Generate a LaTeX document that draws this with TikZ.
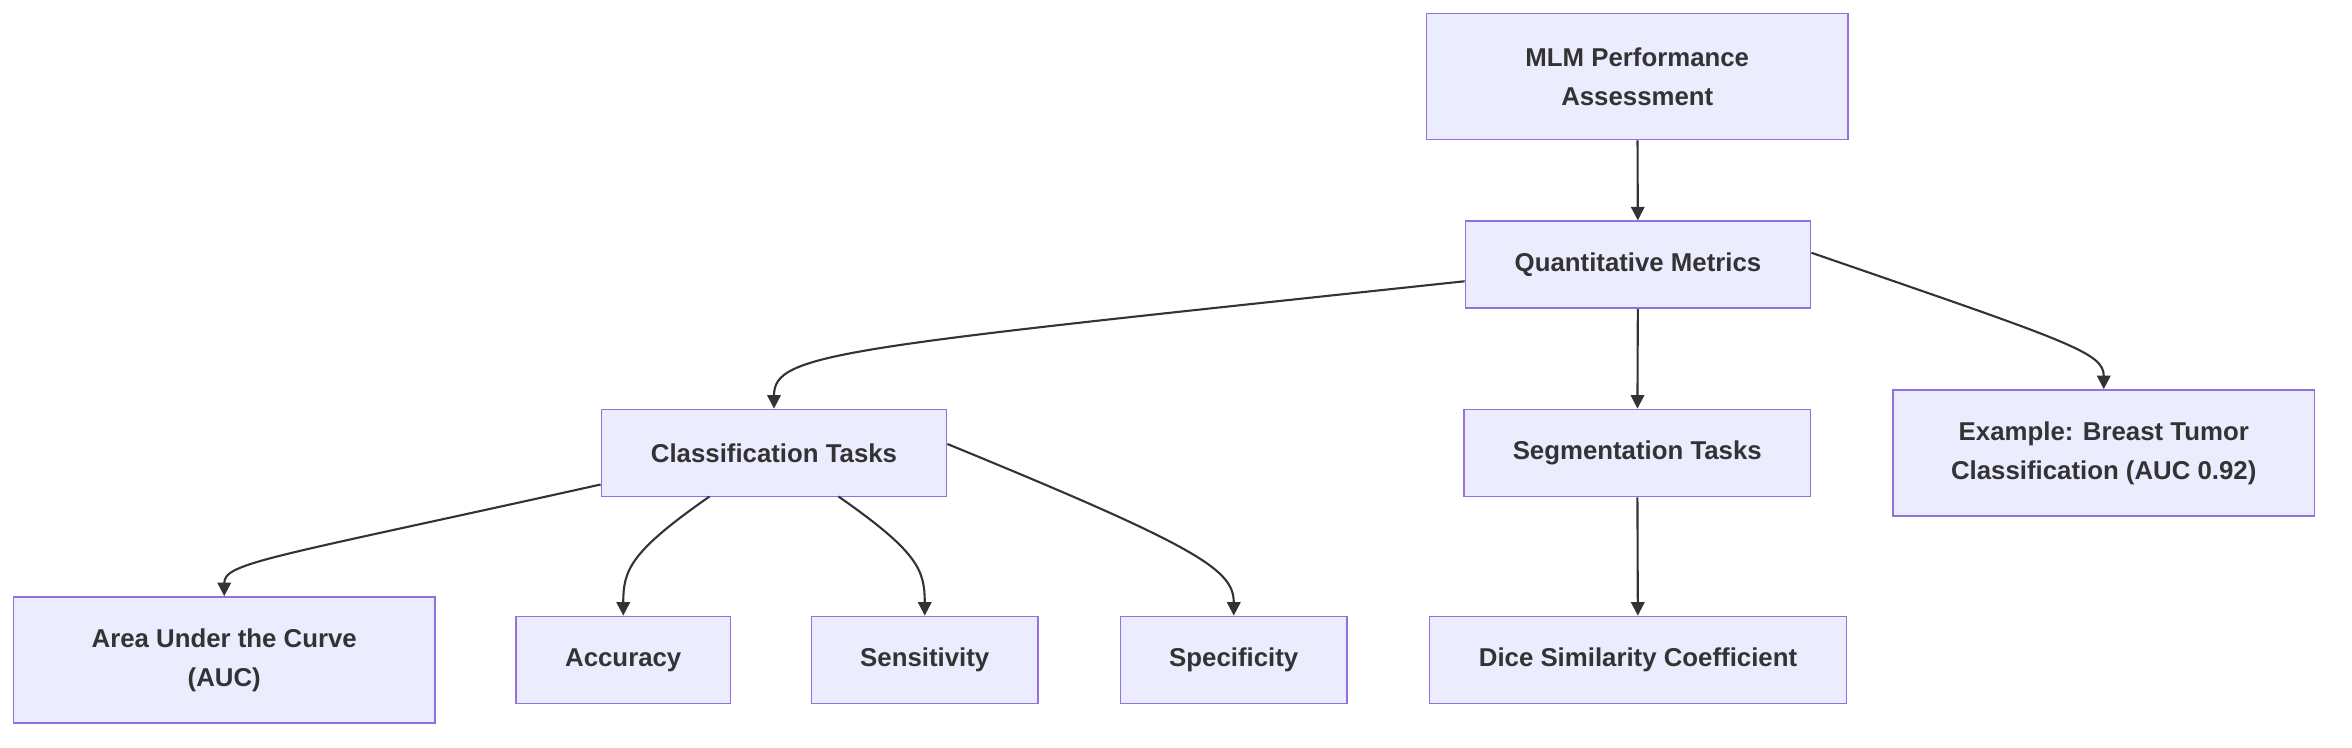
\documentclass[tikz,border=0pt]{standalone}
\usepackage{fontspec}
\setmainfont{Liberation Sans}
\usetikzlibrary{arrows.meta}
\definecolor{nf}{HTML}{ECECFF}
\definecolor{nb}{HTML}{9370DB}
\definecolor{tx}{HTML}{333333}
\begin{document}
\begin{tikzpicture}[x=0.5pt,y=-0.5pt,
  box/.style={draw=nb,fill=nf,line width=0.6pt,text=tx,font=\fontsize{8.6}{13}\selectfont\bfseries,align=center,inner sep=0pt},
  ar/.style={draw=tx,line width=0.7pt,-{Triangle[length=4.5pt,width=4.5pt]}}]
\useasboundingbox (0,0) rectangle (1568,498);
\node[box,minimum width=140.5pt,minimum height=42pt] (mlm) at (1091.5,51) {MLM Performance\\Assessment};
\node[box,minimum width=115pt,minimum height=29pt] (q) at (1092,176.5) {Quantitative Metrics};
\node[box,minimum width=115pt,minimum height=29pt] (c) at (516,302) {Classification Tasks};
\node[box,minimum width=115.5pt,minimum height=29pt] (s) at (1091.5,302) {Segmentation Tasks};
\node[box,minimum width=140.5pt,minimum height=42pt] (e) at (1402.5,302) {Example: Breast Tumor\\Classification (AUC 0.92)};
\node[box,minimum width=140.5pt,minimum height=42pt] (auc) at (149.5,440) {Area Under the Curve\\(AUC)};
\node[box,minimum width=71.5pt,minimum height=29pt] (acc) at (415.5,440) {Accuracy};
\node[box,minimum width=75.5pt,minimum height=29pt] (sen) at (616.5,440) {Sensitivity};
\node[box,minimum width=75.5pt,minimum height=29pt] (spe) at (822.5,440) {Specificity};
\node[box,minimum width=139pt,minimum height=29pt] (d) at (1092,440) {Dice Similarity Coefficient};
\draw[ar] (mlm) -- (q);
\draw[ar] (q) -- (s);
\draw[ar] (s) -- (d);
\draw[ar] ([yshift=-5.5pt]q.west) .. controls (560,232) and (516,235) .. (c.north);
\draw[ar] ([yshift=4pt]q.east) .. controls (1380,228) and (1402.5,235) .. (e.north);
\draw[ar] ([yshift=-10.5pt]c.west) .. controls (180,372) and (149.5,375) .. (auc.north);
\draw[ar] (473,331) .. controls (420,368) and (415.5,380) .. (acc.north);
\draw[ar] (559,331) .. controls (612,368) and (616.5,380) .. (sen.north);
\draw[ar] ([yshift=3pt]c.east) .. controls (800,365) and (822.5,380) .. (spe.north);
\end{tikzpicture}
\end{document}
